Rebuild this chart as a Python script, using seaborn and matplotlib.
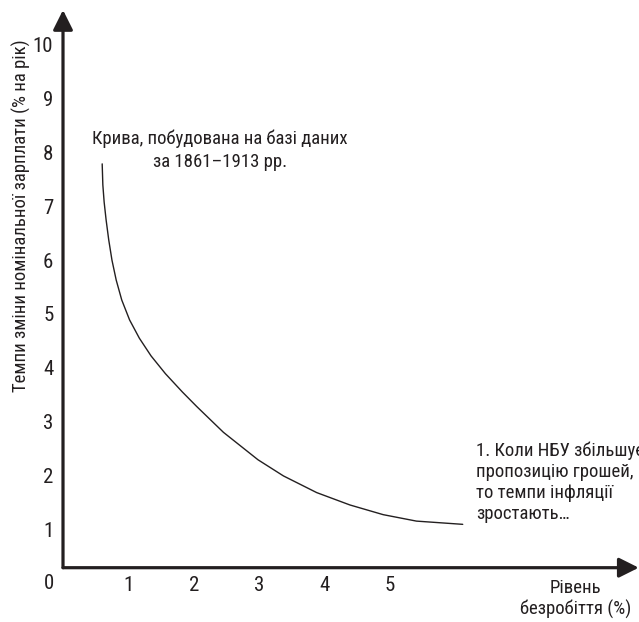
import numpy as np
import pandas as pd
import matplotlib
matplotlib.use('Agg')
import matplotlib.pyplot as plt
import seaborn as sns

# точки кривої Філліпса
unemployment = [0.59, 0.60, 0.62, 0.65, 0.69, 0.74, 0.805, 0.89, 1.01, 1.16,
                1.34, 1.56, 1.82, 2.04, 2.45, 2.98, 3.37, 3.88, 4.39, 4.90,
                5.41, 6.12]
wage_growth = [7.79, 7.40, 7.08, 6.75, 6.38, 6.00, 5.63, 5.26, 4.89, 4.55,
               4.22, 3.89, 3.55, 3.28, 2.80, 2.29, 1.99, 1.68, 1.45, 1.27,
               1.15, 1.09]

x_ticks = [1, 2, 3, 4, 5]
y_ticks = [1, 2, 3, 4, 5, 6, 7, 8, 9, 10]

y_label = 'Темпи зміни номінальної зарплати (% на рік)'
x_label = 'Рівень\nбезробіття (%)'
curve_note = 'Крива, побудована на базі даних\nза 1861–1913 рр.'
nbu_note = '1. Коли НБУ збільшує\nпропозицію грошей,\nто темпи інфляції\nзростають…'

sns.set_theme(style='white')
plt.rcParams['font.family'] = ['Roboto Condensed', 'Liberation Sans', 'DejaVu Sans']
ink = '#231f20'

df = pd.DataFrame({'u': unemployment, 'w': wage_growth})

fig = plt.figure(figsize=(6.39, 6.22), dpi=100)
ax = fig.add_axes([0.0986, 0.0873, 0.901, 0.8966])

sns.lineplot(data=df, x='u', y='w', sort=False, color=ink, lw=1.0, ax=ax)

ax.set_xlim(-0.011, 8.82)
ax.set_ylim(0.284, 10.65)
for s in ax.spines.values():
    s.set_visible(False)

# осі зі стрілками
arrow = dict(arrowstyle='-|>,head_length=0.8,head_width=0.4', lw=2.3,
             color=ink, shrinkA=0, shrinkB=0, mutation_scale=15)
ax.annotate('', xy=(0, 1), xytext=(0, 0), xycoords='axes fraction',
            arrowprops=arrow, annotation_clip=False)
ax.annotate('', xy=(1, 0), xytext=(0, 0), xycoords='axes fraction',
            arrowprops=arrow, annotation_clip=False)

ax.set_xticks(x_ticks)
ax.set_yticks(y_ticks)
ax.tick_params(axis='both', length=0, labelsize=15, colors=ink)
ax.tick_params(axis='y', pad=7)
ax.tick_params(axis='x', pad=6)
ax.set_xlabel('')
ax.set_ylabel(y_label, fontsize=13.5, color=ink)
ax.yaxis.set_label_coords(-0.056, 0.632)

ax.text(-0.024, -0.029, '0', transform=ax.transAxes, ha='center', va='center',
        fontsize=15, color=ink)
ax.text(0.89, -0.056, x_label, transform=ax.transAxes, ha='center', va='center',
        fontsize=13.5, color=ink, linespacing=1.2)

ax.text(2.4, 8.05, curve_note, ha='center', va='center', fontsize=13.5,
        color=ink, linespacing=1.35)
ax.text(6.33, 2.63, nbu_note, ha='left', va='top', fontsize=13.5,
        color=ink, linespacing=1.22, clip_on=False)

fig.savefig('out.png', dpi=100)
